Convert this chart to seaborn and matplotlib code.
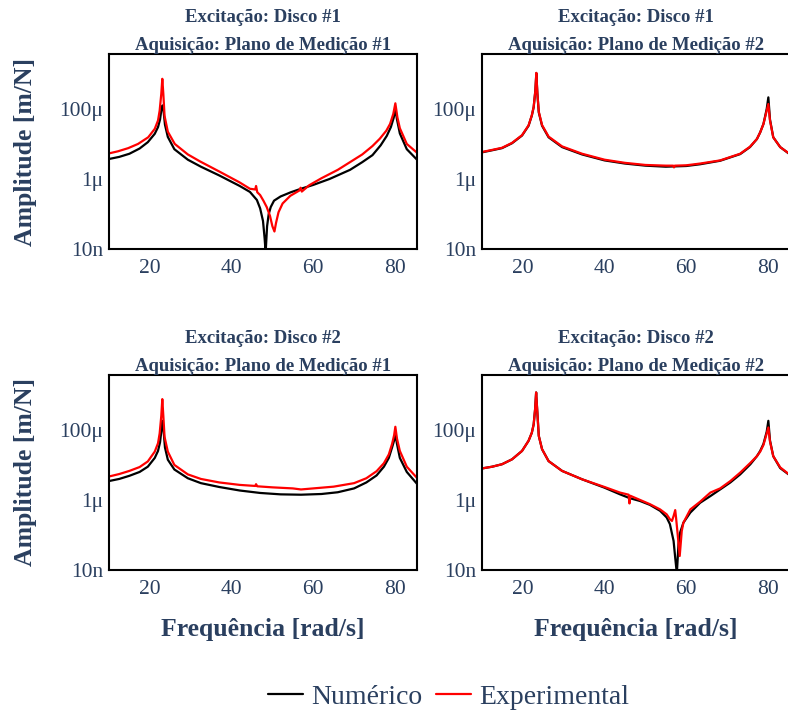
import numpy as np
import pandas as pd
import seaborn as sns
import matplotlib.pyplot as plt
from matplotlib.lines import Line2D
from matplotlib.ticker import FixedLocator, NullLocator

# values: frequency [rad/s] and log10(amplitude [m/N])
# Excitação: Disco #1 / Aquisição: Plano de Medição #1
d1p1_num_freq = [10, 12.5, 15, 17.5, 19.5, 21.2, 22.0, 22.5, 22.85, 23.1, 23.35, 23.7, 24.4, 26,
                 29.3, 32.5, 37, 42, 44.5, 46.2, 47.0, 47.7, 48.1, 48.35, 48.7, 49.1, 49.6,
                 50.4, 52, 54.5, 57, 60, 64, 69, 72, 74.5, 76.5, 78, 79, 79.7, 80.1, 80.5,
                 81.2, 82.9, 85.4]
d1p1_num_amp = [-5.43, -5.37, -5.28, -5.13, -4.95, -4.71, -4.52, -4.3, -4.0, -3.9, -4.05, -4.45,
                -4.8, -5.15, -5.45, -5.65, -5.9, -6.2, -6.37, -6.6, -6.84, -7.2, -7.7, -8.1,
                -7.35, -7.0, -6.8, -6.62, -6.5, -6.38, -6.28, -6.17, -6.0, -5.74, -5.52, -5.32,
                -5.04, -4.77, -4.52, -4.25, -4.0, -4.3, -4.7, -5.15, -5.45]
d1p1_exp_freq = [10, 12.2, 14.7, 17.1, 19.6, 21.2, 22.0, 22.4, 22.8, 23.05, 23.3, 23.6, 24.4,
                 26.1, 29.3, 32.3, 37.2, 42, 44.5, 45.8, 46.0, 46.3, 47.0, 47.8, 48.6, 49.4,
                 50.0, 50.5, 50.9, 51.5, 52.5, 54.4, 56.6, 56.9, 57.2, 59, 62, 66, 69, 72,
                 74.5, 76.3, 77.9, 78.8, 79.6, 80.1, 80.6, 81.2, 82.9, 85.4]
d1p1_exp_amp = [-5.27, -5.21, -5.12, -5.0, -4.81, -4.57, -4.33, -4.05, -3.57, -3.14, -3.57,
                -4.2, -4.65, -5.0, -5.3, -5.5, -5.8, -6.1, -6.28, -6.3, -6.2, -6.38, -6.46,
                -6.62, -6.8, -7.05, -7.35, -7.5, -7.25, -6.95, -6.7, -6.48, -6.33, -6.25, -6.36,
                -6.18, -5.98, -5.74, -5.52, -5.3, -5.06, -4.85, -4.62, -4.43, -4.14, -3.84,
                -4.24, -4.55, -5.0, -5.25]

# Excitação: Disco #1 / Aquisição: Plano de Medição #2
d1p2_num_freq = [10, 12.5, 14.9, 17.35, 19.8, 21.4, 22.2, 22.65, 23.06, 23.3, 23.55, 23.9, 24.7,
                 26.3, 29.6, 34.5, 40, 45, 50, 55, 60, 63.4, 68.3, 73.2, 75.6, 77.3, 78.1, 78.9,
                 79.7, 80.1, 80.5, 81.3, 83.0, 85.4]
d1p2_num_amp = [-5.24, -5.18, -5.12, -4.98, -4.76, -4.48, -4.19, -3.95, -3.48, -2.98, -3.55,
                -4.1, -4.48, -4.81, -5.09, -5.3, -5.47, -5.56, -5.62, -5.65, -5.63, -5.58,
                -5.48, -5.29, -5.09, -4.86, -4.67, -4.43, -4.0, -3.67, -4.3, -4.81, -5.09, -5.3]
d1p2_exp_freq = [10, 12.5, 14.9, 17.35, 19.8, 21.4, 22.2, 22.65, 23.06, 23.3, 23.55, 23.9, 24.7,
                 26.3, 29.6, 34.5, 40, 45, 50, 55, 56.8, 57.0, 57.2, 60, 63.4, 68.3, 73.2,
                 75.6, 77.3, 78.1, 78.9, 79.7, 80.1, 80.5, 81.3, 83.0, 85.4]
d1p2_exp_amp = [-5.23, -5.17, -5.11, -4.97, -4.75, -4.47, -4.18, -3.94, -3.48, -2.97, -3.55,
                -4.08, -4.46, -4.79, -5.07, -5.28, -5.45, -5.54, -5.6, -5.62, -5.62, -5.67,
                -5.62, -5.61, -5.56, -5.47, -5.28, -5.08, -4.86, -4.67, -4.43, -4.05, -3.86,
                -4.33, -4.81, -5.09, -5.29]

# Excitação: Disco #2 / Aquisição: Plano de Medição #1
d2p1_num_freq = [10, 12.5, 15, 17.5, 19.5, 21.2, 22.0, 22.5, 22.85, 23.1, 23.35, 23.7, 24.4, 26,
                 29.3, 32.5, 37, 42, 47, 52, 57, 62, 66, 70, 73, 75.5, 77.3, 78.5, 79.3, 79.8,
                 80.1, 80.5, 81.2, 82.9, 85.4]
d2p1_num_amp = [-5.46, -5.4, -5.31, -5.2, -5.05, -4.8, -4.6, -4.35, -4.0, -3.74, -4.0, -4.5,
                -4.85, -5.13, -5.38, -5.52, -5.63, -5.73, -5.8, -5.84, -5.85, -5.83, -5.78,
                -5.67, -5.5, -5.3, -5.05, -4.8, -4.5, -4.3, -4.12, -4.4, -4.8, -5.2, -5.54]
d2p1_exp_freq = [10, 12.5, 15, 17.5, 19.5, 21.2, 22.0, 22.4, 22.8, 23.05, 23.3, 23.6, 24.4, 26,
                 29.3, 32.5, 37, 42, 45.8, 46.0, 46.3, 50, 55, 57, 60, 65, 70, 73, 75.5, 77.3,
                 78.5, 79.3, 79.8, 80.1, 80.5, 81.2, 82.9, 85.4]
d2p1_exp_amp = [-5.33, -5.26, -5.17, -5.06, -4.9, -4.62, -4.38, -4.1, -3.6, -3.12, -3.6, -4.2,
                -4.62, -5.0, -5.27, -5.4, -5.5, -5.57, -5.6, -5.55, -5.61, -5.64, -5.67, -5.7,
                -5.67, -5.62, -5.52, -5.38, -5.18, -4.95, -4.7, -4.4, -4.15, -3.91, -4.25,
                -4.6, -5.05, -5.37]

# Excitação: Disco #2 / Aquisição: Plano de Medição #2
d2p2_num_freq = [10, 12.5, 14.9, 17.35, 19.8, 21.4, 22.2, 22.65, 23.0, 23.25, 23.55, 23.9, 24.7,
                 26.3, 29.6, 34.5, 40, 43.8, 46.2, 48.7, 51.1, 53.6, 55.2, 56.0, 56.9, 57.3,
                 57.7, 58.1, 58.5, 59.3, 61.0, 63.4, 65.9, 68.3, 70.8, 73.2, 75.7, 77.3, 78.1,
                 78.9, 79.7, 80.1, 80.5, 81.3, 83.0, 85.4]
d2p2_num_amp = [-5.1, -5.05, -4.98, -4.84, -4.6, -4.31, -4.08, -3.84, -3.41, -2.93, -3.5, -4.17,
                -4.55, -4.89, -5.17, -5.41, -5.65, -5.84, -5.95, -6.03, -6.14, -6.31, -6.5,
                -6.69, -7.17, -7.65, -8.1, -7.27, -6.93, -6.65, -6.36, -6.08, -5.89, -5.7, -5.5,
                -5.27, -4.98, -4.75, -4.6, -4.4, -4.05, -3.74, -4.3, -4.75, -5.09, -5.3]
d2p2_exp_freq = [10, 12.5, 14.9, 17.35, 19.8, 21.4, 22.2, 22.65, 23.0, 23.25, 23.55, 23.9, 24.7,
                 26.3, 29.6, 34.5, 40, 43.8, 45.9, 46.1, 46.3, 48.7, 51.1, 53.6, 55.2, 56.0,
                 56.5, 56.9, 57.3, 57.5, 57.9, 58.4, 58.9, 59.3, 61.0, 63.4, 65.9, 68.3, 70.8,
                 73.2, 75.7, 77.3, 78.1, 78.9, 79.7, 80.1, 80.5, 81.3, 83.0, 85.4]
d2p2_exp_amp = [-5.1, -5.05, -4.98, -4.84, -4.6, -4.31, -4.08, -3.84, -3.41, -2.93, -3.5, -4.17,
                -4.55, -4.89, -5.17, -5.41, -5.63, -5.79, -5.85, -6.1, -5.88, -6.0, -6.12,
                -6.27, -6.41, -6.55, -6.6, -6.46, -6.29, -6.5, -6.98, -7.6, -6.89, -6.65,
                -6.27, -6.05, -5.79, -5.67, -5.46, -5.22, -4.94, -4.75, -4.62, -4.43, -4.1,
                -3.93, -4.33, -4.75, -5.07, -5.29]

panel_titles = [
    ("Excitação: Disco #1", "Aquisição: Plano de Medição #1"),
    ("Excitação: Disco #1", "Aquisição: Plano de Medição #2"),
    ("Excitação: Disco #2", "Aquisição: Plano de Medição #1"),
    ("Excitação: Disco #2", "Aquisição: Plano de Medição #2"),
]
series_names = ["Numérico", "Experimental"]
x_ticks = [20, 40, 60, 80]
y_ticks = [1e-8, 1e-6, 1e-4]
y_tick_labels = ["10n", "1μ", "100μ"]

panels = [
    (d1p1_num_freq, d1p1_num_amp, d1p1_exp_freq, d1p1_exp_amp),
    (d1p2_num_freq, d1p2_num_amp, d1p2_exp_freq, d1p2_exp_amp),
    (d2p1_num_freq, d2p1_num_amp, d2p1_exp_freq, d2p1_exp_amp),
    (d2p2_num_freq, d2p2_num_amp, d2p2_exp_freq, d2p2_exp_amp),
]

rows = []
for i, (nf, na, ef, ea) in enumerate(panels):
    for f, a in zip(nf, na):
        rows.append((i, series_names[0], f, 10 ** a))
    for f, a in zip(ef, ea):
        rows.append((i, series_names[1], f, 10 ** a))
df = pd.DataFrame(rows, columns=["panel", "source", "freq", "amp"])

sns.set_style("white")
plt.rcParams["font.family"] = ["Liberation Serif", "DejaVu Serif"]
text_color = "#2a3f5f"
palette = {"Numérico": "black", "Experimental": "#ff0000"}

fig = plt.figure(figsize=(7.88, 7.18), dpi=100)
W, H = 788, 718
ax_w, ax_h = 308, 195
positions = [(109, 54), (482, 54), (109, 375), (482, 375)]

for i, (px, py) in enumerate(positions):
    ax = fig.add_axes([px / W, (H - py - ax_h) / H, ax_w / W, ax_h / H])
    sns.lineplot(data=df[df["panel"] == i], x="freq", y="amp", hue="source",
                 hue_order=series_names, palette=palette, estimator=None, sort=False,
                 linewidth=1.6, legend=False, ax=ax)
    ax.set_yscale("log")
    ax.set_xlim(10, 85.4)
    ax.set_ylim(1e-8, 3.7e-3)
    ax.xaxis.set_major_locator(FixedLocator(x_ticks))
    ax.set_xticklabels([str(t) for t in x_ticks])
    ax.yaxis.set_major_locator(FixedLocator(y_ticks))
    ax.yaxis.set_minor_locator(NullLocator())
    ax.set_yticklabels(y_tick_labels)
    ax.tick_params(axis="both", length=0, labelsize=15.5, labelcolor=text_color)
    ax.tick_params(axis="x", pad=7)
    ax.tick_params(axis="y", pad=4)
    for s in ax.spines.values():
        s.set_color("black")
        s.set_linewidth(1.5)
    ax.set_xlabel("")
    ax.set_ylabel("")
    t1, t2 = panel_titles[i]
    ax.text(0.5, 1.185, t1, transform=ax.transAxes, ha="center", va="center",
            fontsize=13.5, fontweight="bold", color=text_color)
    ax.text(0.5, 1.046, t2, transform=ax.transAxes, ha="center", va="center",
            fontsize=13.5, fontweight="bold", color=text_color)
    if i % 2 == 0:
        ax.set_ylabel("Amplitude [m/N]", fontsize=18.5, fontweight="bold", color=text_color)
        ax.yaxis.set_label_coords(-0.233, 0.5)
    if i >= 2:
        ax.set_xlabel("Frequência [rad/s]", fontsize=18.5, fontweight="bold", color=text_color)
        ax.xaxis.set_label_coords(0.5, -0.246)

handles = [Line2D([], [], color=palette[n], linewidth=1.6) for n in series_names]
leg = fig.legend(handles, series_names, loc="center", bbox_to_anchor=(0.569, 0.029),
                 ncol=2, frameon=False, fontsize=20, handlelength=1.25,
                 handletextpad=0.3, columnspacing=0.5)
for t in leg.get_texts():
    t.set_color(text_color)

fig.savefig("out.png", dpi=100)
